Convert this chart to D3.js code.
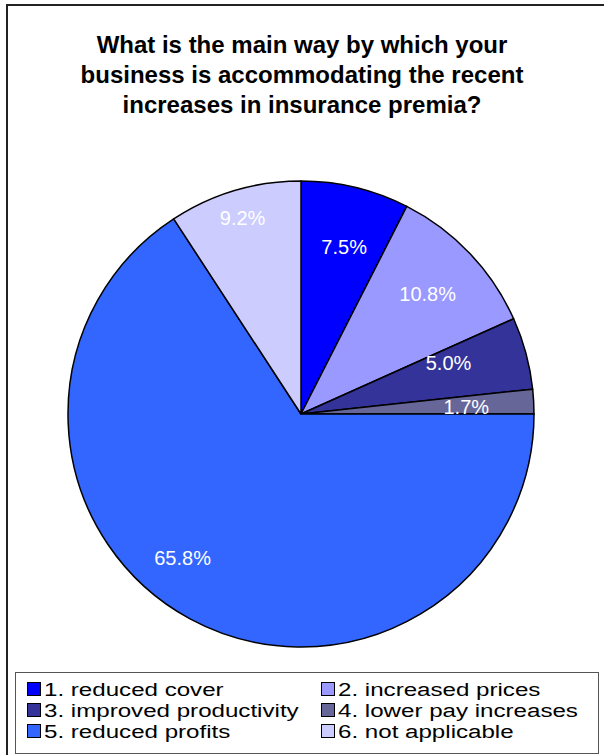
<!DOCTYPE html>
<html>
<head>
<meta charset="utf-8">
<script src="https://cdn.jsdelivr.net/npm/d3@7"></script>
<style>
  body { margin: 0; background: #fff; }
  svg { display: block; font-family: Arial, "Liberation Sans", sans-serif; }
</style>
</head>
<body>
<svg id="chart" width="604" height="755"></svg>
<script>
const titleLines = [
    'What is the main way by which your',
    'business is accommodating the recent',
    'increases in insurance premia?'
];
const categories = [
    '1. reduced cover',
    '2. increased prices',
    '3. improved productivity',
    '4. lower pay increases',
    '5. reduced profits',
    '6. not applicable'
];
const values = [7.5, 10.8, 5.0, 1.7, 65.8, 9.2];
const colors = ['#0000ff', '#9999ff', '#333399', '#666699', '#3366ff', '#ccccff'];

// label nudges (radius factor, angle shift in degrees), Excel moves some labels
const labelRadius = [0.74, 0.75, 0.67, 0.71, 0.80, 0.88];
const labelShift = [1, 0, -4, 0.7, 11, 0];

const width = 604, height = 755;
const cx = 301, cy = 414, r = 233;

const svg = d3.select('#chart');

// outer frame
svg.append('rect')
    .attr('x', 7).attr('y', 5)
    .attr('width', 610).attr('height', 760)
    .attr('fill', 'none')
    .attr('stroke', '#222')
    .attr('stroke-width', 2);

svg.append('g')
    .selectAll('text')
    .data(titleLines)
    .join('text')
    .attr('x', 302)
    .attr('y', (d, i) => 53 + i * 30)
    .attr('text-anchor', 'middle')
    .attr('font-size', 24)
    .attr('font-weight', 'bold')
    .text(d => d);

const pie = d3.pie().sort(null).value(d => d.value);
const arcs = pie(values.map((v, i) => ({ value: v, index: i })));
const arc = d3.arc().innerRadius(0).outerRadius(r);

const g = svg.append('g').attr('transform', `translate(${cx},${cy})`);

g.selectAll('path')
    .data(arcs)
    .join('path')
    .attr('d', arc)
    .attr('fill', d => colors[d.data.index])
    .attr('stroke', '#000')
    .attr('stroke-width', 1.5)
    .attr('stroke-linejoin', 'round');

g.selectAll('text')
    .data(arcs)
    .join('text')
    .attr('transform', d => {
        const i = d.data.index;
        const a = (d.startAngle + d.endAngle) / 2 + labelShift[i] * Math.PI / 180;
        const rr = r * labelRadius[i];
        return `translate(${rr * Math.sin(a)},${-rr * Math.cos(a)})`;
    })
    .attr('text-anchor', 'middle')
    .attr('dy', '0.36em')
    .attr('fill', '#fff')
    .attr('font-size', 20)
    .text(d => d3.format('.1f')(d.data.value) + '%');

// legend
const legend = svg.append('g');
legend.append('rect')
    .attr('x', 15.5).attr('y', 672.5)
    .attr('width', 583).attr('height', 81)
    .attr('fill', '#fff')
    .attr('stroke', '#555')
    .attr('stroke-width', 1);

const item = legend.selectAll('g.item')
    .data(categories)
    .join('g')
    .attr('class', 'item')
    .attr('transform', (d, i) => `translate(${i % 2 === 0 ? 27 : 321},${689 + Math.floor(i / 2) * 21})`);

item.append('rect')
    .attr('x', 0.5).attr('y', -6.5)
    .attr('width', 13).attr('height', 13)
    .attr('fill', (d, i) => colors[i])
    .attr('stroke', '#000')
    .attr('stroke-width', 1);

// the legend text in the reference is wide and short, so stretch it sideways
item.append('text')
    .attr('transform', 'translate(17,0) scale(1.27,1)')
    .attr('dy', '0.36em')
    .attr('font-size', 19)
    .text(d => d);
</script>
</body>
</html>
